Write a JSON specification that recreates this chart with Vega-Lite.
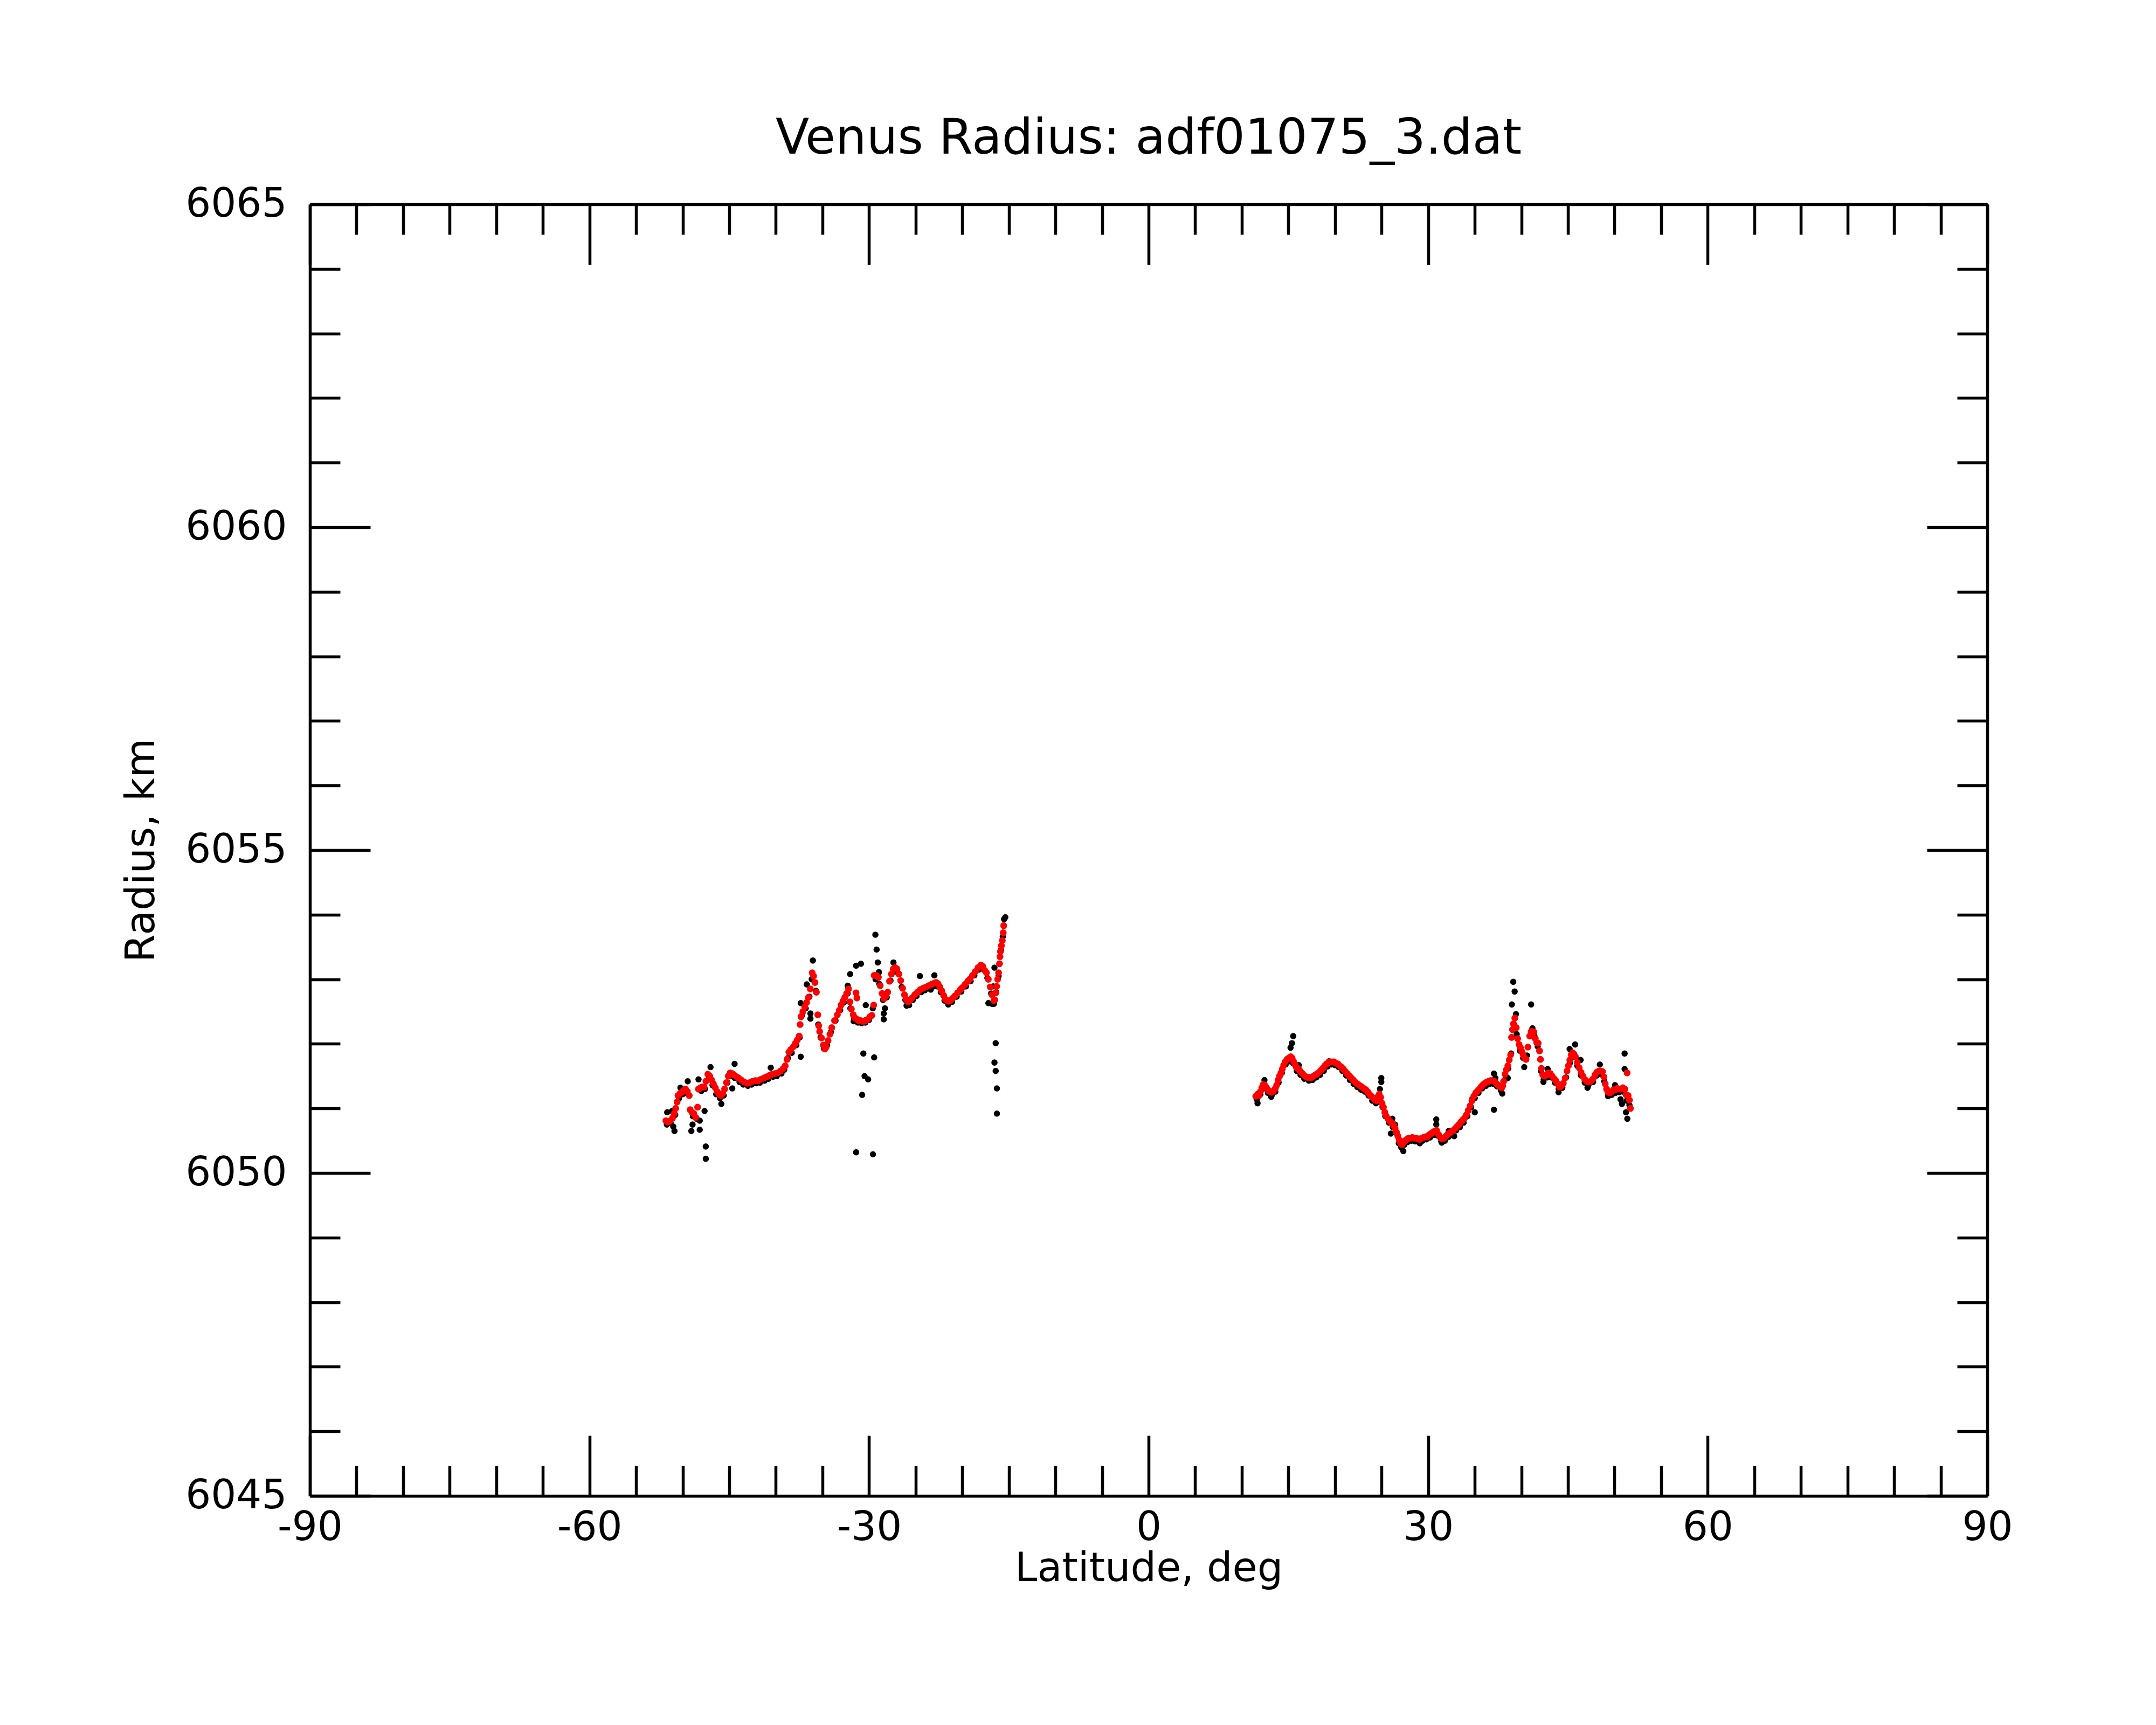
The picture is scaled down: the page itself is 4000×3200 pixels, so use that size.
{
  "$schema": "https://vega.github.io/schema/vega-lite/v6.json",
  "title": {
    "text": "Venus Radius: adf01075_3.dat",
    "font": "DejaVu Sans",
    "fontSize": 91,
    "fontWeight": "normal",
    "color": "black",
    "anchor": "middle",
    "baseline": "alphabetic",
    "offset": -34
  },
  "width": 3112,
  "height": 2396,
  "autosize": "none",
  "padding": {"left": 575, "top": 379, "right": 313, "bottom": 425},
  "background": "white",
  "datasets": {
    "raw": [
      {"lat": -51.7, "radius": 6050.75}, {"lat": -51.3, "radius": 6050.78}, {"lat": -50.8, "radius": 6050.9}, {"lat": -50.4, "radius": 6051.15},
      {"lat": -50.0, "radius": 6051.22}, {"lat": -49.6, "radius": 6051.24}, {"lat": -48.9, "radius": 6050.88}, {"lat": -48.5, "radius": 6050.84},
      {"lat": -48.0, "radius": 6051.27}, {"lat": -47.6, "radius": 6051.3}, {"lat": -47.2, "radius": 6051.46}, {"lat": -46.8, "radius": 6051.36},
      {"lat": -46.4, "radius": 6051.22}, {"lat": -46.0, "radius": 6051.16}, {"lat": -45.6, "radius": 6051.2}, {"lat": -45.2, "radius": 6051.4},
      {"lat": -44.8, "radius": 6051.5}, {"lat": -44.4, "radius": 6051.47}, {"lat": -43.9, "radius": 6051.41}, {"lat": -43.5, "radius": 6051.37},
      {"lat": -43.0, "radius": 6051.35}, {"lat": -42.6, "radius": 6051.37}, {"lat": -42.1, "radius": 6051.39}, {"lat": -41.7, "radius": 6051.4},
      {"lat": -41.2, "radius": 6051.43}, {"lat": -40.8, "radius": 6051.46}, {"lat": -40.3, "radius": 6051.49}, {"lat": -39.9, "radius": 6051.5},
      {"lat": -39.4, "radius": 6051.54}, {"lat": -39.1, "radius": 6051.6}, {"lat": -38.7, "radius": 6051.78}, {"lat": -38.3, "radius": 6051.86},
      {"lat": -37.8, "radius": 6051.98}, {"lat": -37.45, "radius": 6052.1}, {"lat": -37.2, "radius": 6052.44}, {"lat": -36.8, "radius": 6052.55},
      {"lat": -36.4, "radius": 6052.73}, {"lat": -36.15, "radius": 6053.0}, {"lat": -35.7, "radius": 6052.82}, {"lat": -35.45, "radius": 6052.3},
      {"lat": -35.2, "radius": 6052.1}, {"lat": -34.85, "radius": 6051.93}, {"lat": -34.5, "radius": 6051.98}, {"lat": -34.1, "radius": 6052.18},
      {"lat": -33.6, "radius": 6052.36}, {"lat": -33.1, "radius": 6052.52}, {"lat": -32.7, "radius": 6052.64}, {"lat": -32.3, "radius": 6052.78},
      {"lat": -32.0, "radius": 6052.55}, {"lat": -31.6, "radius": 6052.38}, {"lat": -31.2, "radius": 6052.33}, {"lat": -30.8, "radius": 6052.32},
      {"lat": -30.4, "radius": 6052.33}, {"lat": -30.0, "radius": 6052.37}, {"lat": -29.6, "radius": 6052.55}, {"lat": -29.3, "radius": 6053.0},
      {"lat": -28.9, "radius": 6052.93}, {"lat": -28.5, "radius": 6052.68}, {"lat": -28.1, "radius": 6052.72}, {"lat": -27.7, "radius": 6052.98},
      {"lat": -27.3, "radius": 6053.12}, {"lat": -26.9, "radius": 6053.1}, {"lat": -26.5, "radius": 6052.88}, {"lat": -26.1, "radius": 6052.68},
      {"lat": -25.7, "radius": 6052.6}, {"lat": -25.3, "radius": 6052.68}, {"lat": -24.9, "radius": 6052.74}, {"lat": -24.4, "radius": 6052.8},
      {"lat": -24.0, "radius": 6052.83}, {"lat": -23.5, "radius": 6052.86}, {"lat": -23.1, "radius": 6052.89}, {"lat": -22.7, "radius": 6052.89},
      {"lat": -22.3, "radius": 6052.8}, {"lat": -21.9, "radius": 6052.67}, {"lat": -21.5, "radius": 6052.61}, {"lat": -21.1, "radius": 6052.65},
      {"lat": -20.6, "radius": 6052.73}, {"lat": -20.1, "radius": 6052.81}, {"lat": -19.6, "radius": 6052.89}, {"lat": -19.1, "radius": 6052.97},
      {"lat": -18.7, "radius": 6053.06}, {"lat": -18.2, "radius": 6053.15}, {"lat": -17.7, "radius": 6053.15}, {"lat": -17.3, "radius": 6053.02},
      {"lat": -16.9, "radius": 6052.78}, {"lat": -16.6, "radius": 6052.62}, {"lat": -16.35, "radius": 6052.8}, {"lat": -16.1, "radius": 6053.05},
      {"lat": -15.85, "radius": 6053.45}, {"lat": -15.65, "radius": 6053.66},
      {"lat": -47.52, "radius": 6050.41}, {"lat": -47.52, "radius": 6050.22}, {"lat": -47.65, "radius": 6050.96}, {"lat": -48.17, "radius": 6050.81},
      {"lat": -48.17, "radius": 6050.67}, {"lat": -49.07, "radius": 6050.65}, {"lat": -48.94, "radius": 6050.75}, {"lat": -50.88, "radius": 6050.65},
      {"lat": -51.01, "radius": 6050.72}, {"lat": -51.66, "radius": 6050.94}, {"lat": -51.14, "radius": 6050.96}, {"lat": -50.24, "radius": 6051.32},
      {"lat": -49.46, "radius": 6051.42}, {"lat": -48.3, "radius": 6051.45}, {"lat": -47.01, "radius": 6051.64}, {"lat": -45.85, "radius": 6051.07},
      {"lat": -44.68, "radius": 6051.31}, {"lat": -44.43, "radius": 6051.69}, {"lat": -40.55, "radius": 6051.63}, {"lat": -37.33, "radius": 6051.8},
      {"lat": -37.33, "radius": 6052.63}, {"lat": -36.68, "radius": 6052.92}, {"lat": -36.03, "radius": 6053.29}, {"lat": -36.29, "radius": 6052.47},
      {"lat": -36.29, "radius": 6052.39}, {"lat": -32.03, "radius": 6053.08}, {"lat": -31.39, "radius": 6053.21}, {"lat": -30.87, "radius": 6053.24},
      {"lat": -31.65, "radius": 6052.35}, {"lat": -30.35, "radius": 6052.6}, {"lat": -30.61, "radius": 6051.85}, {"lat": -30.48, "radius": 6051.5},
      {"lat": -30.1, "radius": 6051.45}, {"lat": -30.74, "radius": 6051.21}, {"lat": -31.39, "radius": 6050.32}, {"lat": -29.58, "radius": 6050.29},
      {"lat": -29.45, "radius": 6051.79}, {"lat": -29.32, "radius": 6053.69}, {"lat": -29.19, "radius": 6053.46}, {"lat": -29.06, "radius": 6053.26},
      {"lat": -28.94, "radius": 6053.11}, {"lat": -28.42, "radius": 6052.47}, {"lat": -28.29, "radius": 6052.55}, {"lat": -28.42, "radius": 6052.38},
      {"lat": -27.38, "radius": 6053.26}, {"lat": -24.54, "radius": 6053.05}, {"lat": -22.99, "radius": 6053.06}, {"lat": -23.38, "radius": 6052.84},
      {"lat": -16.54, "radius": 6053.18}, {"lat": -16.67, "radius": 6052.89}, {"lat": -16.41, "radius": 6052.01}, {"lat": -16.54, "radius": 6051.71},
      {"lat": -16.41, "radius": 6051.58}, {"lat": -16.28, "radius": 6051.31}, {"lat": -16.28, "radius": 6050.92}, {"lat": -15.38, "radius": 6053.96},
      {"lat": -15.51, "radius": 6053.93}, {"lat": -25.97, "radius": 6052.59}, {"lat": -21.45, "radius": 6052.63}, {"lat": -17.19, "radius": 6052.63},
      {"lat": -16.8, "radius": 6052.62}, {"lat": -32.29, "radius": 6052.9},
      {"lat": 11.6, "radius": 6051.14}, {"lat": 12.0, "radius": 6051.22}, {"lat": 12.4, "radius": 6051.31}, {"lat": 12.8, "radius": 6051.24},
      {"lat": 13.2, "radius": 6051.2}, {"lat": 13.6, "radius": 6051.26}, {"lat": 13.95, "radius": 6051.4}, {"lat": 14.3, "radius": 6051.55},
      {"lat": 14.7, "radius": 6051.68}, {"lat": 15.1, "radius": 6051.73}, {"lat": 15.5, "radius": 6051.7}, {"lat": 15.9, "radius": 6051.58},
      {"lat": 16.3, "radius": 6051.52}, {"lat": 16.7, "radius": 6051.46}, {"lat": 17.2, "radius": 6051.43}, {"lat": 17.6, "radius": 6051.44},
      {"lat": 18.0, "radius": 6051.48}, {"lat": 18.4, "radius": 6051.52}, {"lat": 18.8, "radius": 6051.58}, {"lat": 19.2, "radius": 6051.65},
      {"lat": 19.6, "radius": 6051.68}, {"lat": 20.0, "radius": 6051.67}, {"lat": 20.4, "radius": 6051.64}, {"lat": 20.8, "radius": 6051.58},
      {"lat": 21.2, "radius": 6051.51}, {"lat": 21.6, "radius": 6051.44}, {"lat": 22.0, "radius": 6051.38}, {"lat": 22.4, "radius": 6051.33},
      {"lat": 22.8, "radius": 6051.29}, {"lat": 23.2, "radius": 6051.26}, {"lat": 23.6, "radius": 6051.2}, {"lat": 24.0, "radius": 6051.12},
      {"lat": 24.4, "radius": 6051.08}, {"lat": 24.7, "radius": 6051.15}, {"lat": 25.1, "radius": 6051.02}, {"lat": 25.4, "radius": 6050.88},
      {"lat": 25.8, "radius": 6050.78}, {"lat": 26.2, "radius": 6050.71}, {"lat": 26.55, "radius": 6050.62}, {"lat": 26.85, "radius": 6050.46},
      {"lat": 27.1, "radius": 6050.4}, {"lat": 27.45, "radius": 6050.44}, {"lat": 27.8, "radius": 6050.48}, {"lat": 28.2, "radius": 6050.5},
      {"lat": 28.6, "radius": 6050.49}, {"lat": 29.0, "radius": 6050.48}, {"lat": 29.4, "radius": 6050.5}, {"lat": 29.8, "radius": 6050.52},
      {"lat": 30.2, "radius": 6050.55}, {"lat": 30.6, "radius": 6050.59}, {"lat": 31.0, "radius": 6050.58}, {"lat": 31.4, "radius": 6050.49},
      {"lat": 31.8, "radius": 6050.5}, {"lat": 32.2, "radius": 6050.56}, {"lat": 32.6, "radius": 6050.6}, {"lat": 33.0, "radius": 6050.66},
      {"lat": 33.4, "radius": 6050.71}, {"lat": 33.8, "radius": 6050.78}, {"lat": 34.2, "radius": 6050.88}, {"lat": 34.6, "radius": 6051.02},
      {"lat": 35.0, "radius": 6051.16}, {"lat": 35.4, "radius": 6051.24}, {"lat": 35.8, "radius": 6051.31}, {"lat": 36.2, "radius": 6051.35},
      {"lat": 36.6, "radius": 6051.38}, {"lat": 37.0, "radius": 6051.38}, {"lat": 37.4, "radius": 6051.34}, {"lat": 37.8, "radius": 6051.28},
      {"lat": 38.2, "radius": 6051.44}, {"lat": 38.6, "radius": 6051.62}, {"lat": 38.9, "radius": 6051.85}, {"lat": 39.2, "radius": 6052.3},
      {"lat": 39.5, "radius": 6052.15}, {"lat": 39.85, "radius": 6051.9}, {"lat": 40.2, "radius": 6051.78}, {"lat": 40.6, "radius": 6051.82},
      {"lat": 41.0, "radius": 6052.12}, {"lat": 41.4, "radius": 6052.12}, {"lat": 41.75, "radius": 6051.96}, {"lat": 42.1, "radius": 6051.58},
      {"lat": 42.4, "radius": 6051.45}, {"lat": 42.8, "radius": 6051.48}, {"lat": 43.2, "radius": 6051.48}, {"lat": 43.6, "radius": 6051.4},
      {"lat": 44.0, "radius": 6051.3}, {"lat": 44.4, "radius": 6051.32}, {"lat": 44.8, "radius": 6051.48}, {"lat": 45.2, "radius": 6051.7},
      {"lat": 45.6, "radius": 6051.8}, {"lat": 46.0, "radius": 6051.66}, {"lat": 46.4, "radius": 6051.51}, {"lat": 46.8, "radius": 6051.4},
      {"lat": 47.2, "radius": 6051.36}, {"lat": 47.7, "radius": 6051.41}, {"lat": 48.1, "radius": 6051.51}, {"lat": 48.5, "radius": 6051.53},
      {"lat": 48.9, "radius": 6051.42}, {"lat": 49.3, "radius": 6051.2}, {"lat": 49.7, "radius": 6051.21}, {"lat": 50.1, "radius": 6051.24},
      {"lat": 50.5, "radius": 6051.25}, {"lat": 50.9, "radius": 6051.26}, {"lat": 51.3, "radius": 6051.12}, {"lat": 51.6, "radius": 6051.05},
      {"lat": 15.52, "radius": 6052.12}, {"lat": 15.38, "radius": 6052.01}, {"lat": 15.23, "radius": 6051.94}, {"lat": 12.43, "radius": 6051.44},
      {"lat": 11.69, "radius": 6051.08}, {"lat": 13.16, "radius": 6051.18}, {"lat": 16.11, "radius": 6051.67}, {"lat": 19.36, "radius": 6051.73},
      {"lat": 23.2, "radius": 6051.29}, {"lat": 24.97, "radius": 6051.47}, {"lat": 24.97, "radius": 6051.41}, {"lat": 24.82, "radius": 6051.3},
      {"lat": 26.15, "radius": 6050.84}, {"lat": 26.0, "radius": 6050.61}, {"lat": 26.44, "radius": 6050.75}, {"lat": 27.33, "radius": 6050.34},
      {"lat": 29.1, "radius": 6050.46}, {"lat": 30.87, "radius": 6050.83}, {"lat": 30.87, "radius": 6050.75}, {"lat": 31.46, "radius": 6050.47},
      {"lat": 32.2, "radius": 6050.65}, {"lat": 32.79, "radius": 6050.57}, {"lat": 34.7, "radius": 6051.14}, {"lat": 35.0, "radius": 6050.94},
      {"lat": 37.06, "radius": 6051.54}, {"lat": 37.21, "radius": 6051.47}, {"lat": 37.06, "radius": 6050.98}, {"lat": 37.95, "radius": 6051.23},
      {"lat": 38.54, "radius": 6051.47}, {"lat": 38.98, "radius": 6052.61}, {"lat": 39.13, "radius": 6052.96}, {"lat": 39.28, "radius": 6052.81},
      {"lat": 39.42, "radius": 6052.46}, {"lat": 39.87, "radius": 6051.89}, {"lat": 40.31, "radius": 6051.64}, {"lat": 41.05, "radius": 6052.61},
      {"lat": 41.19, "radius": 6052.24}, {"lat": 42.37, "radius": 6051.41}, {"lat": 42.82, "radius": 6051.61}, {"lat": 43.99, "radius": 6051.25},
      {"lat": 45.18, "radius": 6051.92}, {"lat": 45.77, "radius": 6051.99}, {"lat": 46.36, "radius": 6051.75}, {"lat": 47.1, "radius": 6051.32},
      {"lat": 48.42, "radius": 6051.68}, {"lat": 49.31, "radius": 6051.19}, {"lat": 50.05, "radius": 6051.36}, {"lat": 50.64, "radius": 6051.14},
      {"lat": 50.79, "radius": 6051.07}, {"lat": 51.08, "radius": 6051.85}, {"lat": 51.08, "radius": 6051.61}, {"lat": 51.23, "radius": 6050.94},
      {"lat": 51.37, "radius": 6050.84}, {"lat": 50.93, "radius": 6051.28}
    ],
    "fit": [
      {"lat": -51.8, "radius": 6050.81}, {"lat": -51.6, "radius": 6050.79}, {"lat": -51.4, "radius": 6050.8}, {"lat": -51.1, "radius": 6050.85},
      {"lat": -50.9, "radius": 6050.92}, {"lat": -50.75, "radius": 6051.0}, {"lat": -50.6, "radius": 6051.1}, {"lat": -50.5, "radius": 6051.2},
      {"lat": -50.3, "radius": 6051.23}, {"lat": -50.1, "radius": 6051.25}, {"lat": -49.9, "radius": 6051.28}, {"lat": -49.7, "radius": 6051.3},
      {"lat": -49.5, "radius": 6051.26}, {"lat": -49.3, "radius": 6051.2}, {"lat": -49.2, "radius": 6050.98}, {"lat": -49.0, "radius": 6050.94},
      {"lat": -48.8, "radius": 6050.92}, {"lat": -48.6, "radius": 6050.86}, {"lat": -48.4, "radius": 6051.02}, {"lat": -48.3, "radius": 6051.3},
      {"lat": -48.1, "radius": 6051.32}, {"lat": -47.9, "radius": 6051.33}, {"lat": -47.7, "radius": 6051.33}, {"lat": -47.5, "radius": 6051.42},
      {"lat": -47.3, "radius": 6051.53}, {"lat": -47.1, "radius": 6051.5}, {"lat": -46.9, "radius": 6051.44}, {"lat": -46.7, "radius": 6051.38},
      {"lat": -46.5, "radius": 6051.32}, {"lat": -46.3, "radius": 6051.26}, {"lat": -46.1, "radius": 6051.22}, {"lat": -45.9, "radius": 6051.2},
      {"lat": -45.7, "radius": 6051.23}, {"lat": -45.5, "radius": 6051.3}, {"lat": -45.3, "radius": 6051.4}, {"lat": -45.1, "radius": 6051.5},
      {"lat": -44.9, "radius": 6051.55}, {"lat": -44.7, "radius": 6051.54}, {"lat": -44.5, "radius": 6051.52}, {"lat": -44.2, "radius": 6051.49},
      {"lat": -44.0, "radius": 6051.47}, {"lat": -43.7, "radius": 6051.44}, {"lat": -43.4, "radius": 6051.41}, {"lat": -43.1, "radius": 6051.39},
      {"lat": -42.8, "radius": 6051.4}, {"lat": -42.5, "radius": 6051.42}, {"lat": -42.2, "radius": 6051.43}, {"lat": -41.9, "radius": 6051.43},
      {"lat": -41.6, "radius": 6051.45}, {"lat": -41.3, "radius": 6051.47}, {"lat": -41.0, "radius": 6051.49}, {"lat": -40.7, "radius": 6051.51},
      {"lat": -40.4, "radius": 6051.53}, {"lat": -40.1, "radius": 6051.54}, {"lat": -39.8, "radius": 6051.55}, {"lat": -39.5, "radius": 6051.58},
      {"lat": -39.2, "radius": 6051.62}, {"lat": -39.0, "radius": 6051.66}, {"lat": -38.8, "radius": 6051.76}, {"lat": -38.6, "radius": 6051.87},
      {"lat": -38.4, "radius": 6051.91}, {"lat": -38.1, "radius": 6051.96}, {"lat": -37.9, "radius": 6052.01}, {"lat": -37.7, "radius": 6052.06},
      {"lat": -37.5, "radius": 6052.12}, {"lat": -37.4, "radius": 6052.3}, {"lat": -37.3, "radius": 6052.42}, {"lat": -37.1, "radius": 6052.5},
      {"lat": -36.9, "radius": 6052.57}, {"lat": -36.7, "radius": 6052.64}, {"lat": -36.5, "radius": 6052.72}, {"lat": -36.3, "radius": 6052.85},
      {"lat": -36.1, "radius": 6053.1}, {"lat": -35.95, "radius": 6053.05}, {"lat": -35.8, "radius": 6052.95}, {"lat": -35.65, "radius": 6052.8},
      {"lat": -35.5, "radius": 6052.45}, {"lat": -35.4, "radius": 6052.28}, {"lat": -35.3, "radius": 6052.19}, {"lat": -35.1, "radius": 6052.09},
      {"lat": -34.9, "radius": 6051.98}, {"lat": -34.75, "radius": 6051.92}, {"lat": -34.6, "radius": 6051.95}, {"lat": -34.4, "radius": 6052.05},
      {"lat": -34.2, "radius": 6052.15}, {"lat": -34.0, "radius": 6052.25}, {"lat": -33.7, "radius": 6052.36}, {"lat": -33.4, "radius": 6052.45},
      {"lat": -33.2, "radius": 6052.52}, {"lat": -33.0, "radius": 6052.6}, {"lat": -32.8, "radius": 6052.66}, {"lat": -32.6, "radius": 6052.72},
      {"lat": -32.4, "radius": 6052.78}, {"lat": -32.2, "radius": 6052.85}, {"lat": -32.05, "radius": 6052.65}, {"lat": -31.9, "radius": 6052.54},
      {"lat": -31.7, "radius": 6052.45}, {"lat": -31.5, "radius": 6052.4}, {"lat": -31.3, "radius": 6052.38}, {"lat": -31.1, "radius": 6052.36},
      {"lat": -30.9, "radius": 6052.36}, {"lat": -30.7, "radius": 6052.35}, {"lat": -30.5, "radius": 6052.35}, {"lat": -30.3, "radius": 6052.37},
      {"lat": -30.1, "radius": 6052.38}, {"lat": -29.9, "radius": 6052.42}, {"lat": -29.7, "radius": 6052.44}, {"lat": -31.4, "radius": 6052.79},
      {"lat": -31.3, "radius": 6052.71}, {"lat": -29.5, "radius": 6052.6}, {"lat": -29.45, "radius": 6053.06}, {"lat": -29.2, "radius": 6053.06},
      {"lat": -29.0, "radius": 6053.03}, {"lat": -28.8, "radius": 6052.9}, {"lat": -28.6, "radius": 6052.78}, {"lat": -28.4, "radius": 6052.7},
      {"lat": -28.2, "radius": 6052.74}, {"lat": -28.0, "radius": 6052.8}, {"lat": -27.8, "radius": 6052.97}, {"lat": -27.6, "radius": 6053.08},
      {"lat": -27.4, "radius": 6053.16}, {"lat": -27.2, "radius": 6053.18}, {"lat": -27.0, "radius": 6053.16}, {"lat": -26.8, "radius": 6053.08},
      {"lat": -26.6, "radius": 6052.98}, {"lat": -26.4, "radius": 6052.86}, {"lat": -26.2, "radius": 6052.76}, {"lat": -26.0, "radius": 6052.69},
      {"lat": -25.8, "radius": 6052.65}, {"lat": -25.6, "radius": 6052.68}, {"lat": -25.4, "radius": 6052.71}, {"lat": -25.1, "radius": 6052.76},
      {"lat": -24.8, "radius": 6052.8}, {"lat": -24.5, "radius": 6052.84}, {"lat": -24.2, "radius": 6052.86}, {"lat": -23.9, "radius": 6052.88},
      {"lat": -23.6, "radius": 6052.9}, {"lat": -23.3, "radius": 6052.92}, {"lat": -23.0, "radius": 6052.94}, {"lat": -22.8, "radius": 6052.95},
      {"lat": -22.6, "radius": 6052.93}, {"lat": -22.4, "radius": 6052.88}, {"lat": -22.2, "radius": 6052.82}, {"lat": -22.0, "radius": 6052.75},
      {"lat": -21.8, "radius": 6052.69}, {"lat": -21.6, "radius": 6052.67}, {"lat": -21.4, "radius": 6052.66}, {"lat": -21.2, "radius": 6052.68},
      {"lat": -21.0, "radius": 6052.71}, {"lat": -20.8, "radius": 6052.74}, {"lat": -20.5, "radius": 6052.79}, {"lat": -20.2, "radius": 6052.84},
      {"lat": -20.0, "radius": 6052.87}, {"lat": -19.7, "radius": 6052.92}, {"lat": -19.4, "radius": 6052.97}, {"lat": -19.2, "radius": 6053.0},
      {"lat": -18.9, "radius": 6053.06}, {"lat": -18.6, "radius": 6053.12}, {"lat": -18.3, "radius": 6053.18}, {"lat": -18.0, "radius": 6053.22},
      {"lat": -17.8, "radius": 6053.2}, {"lat": -17.6, "radius": 6053.14}, {"lat": -17.4, "radius": 6053.1}, {"lat": -17.2, "radius": 6053.0},
      {"lat": -17.0, "radius": 6052.88}, {"lat": -16.8, "radius": 6052.76}, {"lat": -16.6, "radius": 6052.67}, {"lat": -16.5, "radius": 6052.68},
      {"lat": -16.4, "radius": 6052.79}, {"lat": -16.3, "radius": 6052.89}, {"lat": -16.2, "radius": 6053.0}, {"lat": -16.1, "radius": 6053.1},
      {"lat": -16.0, "radius": 6053.24}, {"lat": -15.95, "radius": 6053.35}, {"lat": -15.9, "radius": 6053.43}, {"lat": -15.8, "radius": 6053.52},
      {"lat": -15.7, "radius": 6053.6}, {"lat": -15.6, "radius": 6053.72}, {"lat": -15.55, "radius": 6053.83},
      {"lat": 11.5, "radius": 6051.19}, {"lat": 11.7, "radius": 6051.22}, {"lat": 11.85, "radius": 6051.2}, {"lat": 12.0, "radius": 6051.26},
      {"lat": 12.15, "radius": 6051.32}, {"lat": 12.3, "radius": 6051.37}, {"lat": 12.45, "radius": 6051.36}, {"lat": 12.6, "radius": 6051.33},
      {"lat": 12.75, "radius": 6051.3}, {"lat": 12.9, "radius": 6051.27}, {"lat": 13.05, "radius": 6051.26}, {"lat": 13.2, "radius": 6051.25},
      {"lat": 13.4, "radius": 6051.27}, {"lat": 13.6, "radius": 6051.31}, {"lat": 13.75, "radius": 6051.36}, {"lat": 13.9, "radius": 6051.44},
      {"lat": 14.05, "radius": 6051.5}, {"lat": 14.2, "radius": 6051.55}, {"lat": 14.35, "radius": 6051.61}, {"lat": 14.5, "radius": 6051.67},
      {"lat": 14.65, "radius": 6051.72}, {"lat": 14.85, "radius": 6051.76}, {"lat": 15.05, "radius": 6051.78}, {"lat": 15.25, "radius": 6051.8},
      {"lat": 15.4, "radius": 6051.78}, {"lat": 15.55, "radius": 6051.73}, {"lat": 15.7, "radius": 6051.68}, {"lat": 15.85, "radius": 6051.64},
      {"lat": 16.0, "radius": 6051.62}, {"lat": 16.15, "radius": 6051.6}, {"lat": 16.3, "radius": 6051.57}, {"lat": 16.5, "radius": 6051.54},
      {"lat": 16.7, "radius": 6051.51}, {"lat": 16.9, "radius": 6051.49}, {"lat": 17.1, "radius": 6051.48}, {"lat": 17.3, "radius": 6051.48},
      {"lat": 17.5, "radius": 6051.48}, {"lat": 17.7, "radius": 6051.5}, {"lat": 17.9, "radius": 6051.52}, {"lat": 18.1, "radius": 6051.54},
      {"lat": 18.3, "radius": 6051.56}, {"lat": 18.5, "radius": 6051.59}, {"lat": 18.7, "radius": 6051.62}, {"lat": 18.9, "radius": 6051.66},
      {"lat": 19.1, "radius": 6051.69}, {"lat": 19.3, "radius": 6051.71}, {"lat": 19.5, "radius": 6051.72}, {"lat": 19.7, "radius": 6051.72},
      {"lat": 19.9, "radius": 6051.72}, {"lat": 20.1, "radius": 6051.7}, {"lat": 20.3, "radius": 6051.69}, {"lat": 20.5, "radius": 6051.66},
      {"lat": 20.7, "radius": 6051.64}, {"lat": 20.9, "radius": 6051.61}, {"lat": 21.1, "radius": 6051.57}, {"lat": 21.3, "radius": 6051.54},
      {"lat": 21.5, "radius": 6051.51}, {"lat": 21.7, "radius": 6051.48}, {"lat": 21.9, "radius": 6051.45}, {"lat": 22.1, "radius": 6051.42},
      {"lat": 22.3, "radius": 6051.39}, {"lat": 22.5, "radius": 6051.37}, {"lat": 22.7, "radius": 6051.35}, {"lat": 22.9, "radius": 6051.33},
      {"lat": 23.1, "radius": 6051.31}, {"lat": 23.3, "radius": 6051.29}, {"lat": 23.5, "radius": 6051.26}, {"lat": 23.7, "radius": 6051.22},
      {"lat": 23.9, "radius": 6051.19}, {"lat": 24.1, "radius": 6051.16}, {"lat": 24.3, "radius": 6051.13}, {"lat": 24.45, "radius": 6051.12},
      {"lat": 24.6, "radius": 6051.18}, {"lat": 24.75, "radius": 6051.22}, {"lat": 24.9, "radius": 6051.17}, {"lat": 25.05, "radius": 6051.08},
      {"lat": 25.2, "radius": 6051.02}, {"lat": 25.35, "radius": 6050.94}, {"lat": 25.5, "radius": 6050.88}, {"lat": 25.7, "radius": 6050.84},
      {"lat": 25.9, "radius": 6050.8}, {"lat": 26.1, "radius": 6050.77}, {"lat": 26.3, "radius": 6050.74}, {"lat": 26.45, "radius": 6050.69},
      {"lat": 26.6, "radius": 6050.63}, {"lat": 26.75, "radius": 6050.57}, {"lat": 26.9, "radius": 6050.51}, {"lat": 27.05, "radius": 6050.46},
      {"lat": 27.2, "radius": 6050.44}, {"lat": 27.35, "radius": 6050.47}, {"lat": 27.5, "radius": 6050.5}, {"lat": 27.7, "radius": 6050.52},
      {"lat": 27.9, "radius": 6050.54}, {"lat": 28.1, "radius": 6050.54}, {"lat": 28.3, "radius": 6050.55}, {"lat": 28.5, "radius": 6050.54},
      {"lat": 28.7, "radius": 6050.54}, {"lat": 28.9, "radius": 6050.53}, {"lat": 29.1, "radius": 6050.52}, {"lat": 29.3, "radius": 6050.54},
      {"lat": 29.5, "radius": 6050.55}, {"lat": 29.7, "radius": 6050.56}, {"lat": 29.9, "radius": 6050.56}, {"lat": 30.1, "radius": 6050.59},
      {"lat": 30.3, "radius": 6050.61}, {"lat": 30.5, "radius": 6050.63}, {"lat": 30.7, "radius": 6050.65}, {"lat": 30.9, "radius": 6050.66},
      {"lat": 31.1, "radius": 6050.6}, {"lat": 31.3, "radius": 6050.55}, {"lat": 31.5, "radius": 6050.53}, {"lat": 31.7, "radius": 6050.54},
      {"lat": 31.9, "radius": 6050.57}, {"lat": 32.1, "radius": 6050.6}, {"lat": 32.3, "radius": 6050.62}, {"lat": 32.5, "radius": 6050.64},
      {"lat": 32.7, "radius": 6050.66}, {"lat": 32.9, "radius": 6050.69}, {"lat": 33.1, "radius": 6050.72}, {"lat": 33.3, "radius": 6050.75},
      {"lat": 33.5, "radius": 6050.79}, {"lat": 33.7, "radius": 6050.82}, {"lat": 33.9, "radius": 6050.85}, {"lat": 34.1, "radius": 6050.9},
      {"lat": 34.3, "radius": 6050.97}, {"lat": 34.5, "radius": 6051.04}, {"lat": 34.7, "radius": 6051.12}, {"lat": 34.9, "radius": 6051.19},
      {"lat": 35.1, "radius": 6051.24}, {"lat": 35.3, "radius": 6051.27}, {"lat": 35.5, "radius": 6051.3}, {"lat": 35.7, "radius": 6051.34},
      {"lat": 35.9, "radius": 6051.37}, {"lat": 36.1, "radius": 6051.39}, {"lat": 36.3, "radius": 6051.41}, {"lat": 36.5, "radius": 6051.42},
      {"lat": 36.7, "radius": 6051.43}, {"lat": 36.9, "radius": 6051.43}, {"lat": 37.1, "radius": 6051.42}, {"lat": 37.3, "radius": 6051.39},
      {"lat": 37.5, "radius": 6051.36}, {"lat": 37.7, "radius": 6051.34}, {"lat": 37.9, "radius": 6051.32}, {"lat": 38.0, "radius": 6051.35},
      {"lat": 38.1, "radius": 6051.42}, {"lat": 38.25, "radius": 6051.53}, {"lat": 38.4, "radius": 6051.6}, {"lat": 38.55, "radius": 6051.66},
      {"lat": 38.7, "radius": 6051.75}, {"lat": 38.85, "radius": 6051.83}, {"lat": 38.95, "radius": 6052.1}, {"lat": 39.05, "radius": 6052.22},
      {"lat": 39.15, "radius": 6052.31}, {"lat": 39.3, "radius": 6052.4}, {"lat": 39.45, "radius": 6052.25}, {"lat": 39.6, "radius": 6052.08},
      {"lat": 39.75, "radius": 6051.99}, {"lat": 39.9, "radius": 6051.94}, {"lat": 40.05, "radius": 6051.88}, {"lat": 40.2, "radius": 6051.83},
      {"lat": 40.35, "radius": 6051.78}, {"lat": 40.5, "radius": 6051.76}, {"lat": 40.7, "radius": 6051.95}, {"lat": 40.9, "radius": 6052.12},
      {"lat": 41.05, "radius": 6052.19}, {"lat": 41.2, "radius": 6052.19}, {"lat": 41.35, "radius": 6052.18}, {"lat": 41.5, "radius": 6052.08},
      {"lat": 41.65, "radius": 6052.02}, {"lat": 41.8, "radius": 6052.01}, {"lat": 41.95, "radius": 6051.89}, {"lat": 42.05, "radius": 6051.76},
      {"lat": 42.15, "radius": 6051.62}, {"lat": 42.3, "radius": 6051.52}, {"lat": 42.5, "radius": 6051.5}, {"lat": 42.7, "radius": 6051.52},
      {"lat": 42.9, "radius": 6051.55}, {"lat": 43.1, "radius": 6051.54}, {"lat": 43.3, "radius": 6051.5}, {"lat": 43.5, "radius": 6051.46},
      {"lat": 43.7, "radius": 6051.43}, {"lat": 43.9, "radius": 6051.38}, {"lat": 44.1, "radius": 6051.33}, {"lat": 44.3, "radius": 6051.35},
      {"lat": 44.5, "radius": 6051.39}, {"lat": 44.7, "radius": 6051.47}, {"lat": 44.9, "radius": 6051.58}, {"lat": 45.05, "radius": 6051.66},
      {"lat": 45.2, "radius": 6051.75}, {"lat": 45.35, "radius": 6051.83}, {"lat": 45.5, "radius": 6051.86}, {"lat": 45.65, "radius": 6051.84},
      {"lat": 45.8, "radius": 6051.8}, {"lat": 46.0, "radius": 6051.71}, {"lat": 46.2, "radius": 6051.63}, {"lat": 46.4, "radius": 6051.56},
      {"lat": 46.6, "radius": 6051.5}, {"lat": 46.8, "radius": 6051.45}, {"lat": 47.0, "radius": 6051.42}, {"lat": 47.2, "radius": 6051.41},
      {"lat": 47.45, "radius": 6051.42}, {"lat": 47.7, "radius": 6051.46}, {"lat": 47.9, "radius": 6051.52}, {"lat": 48.1, "radius": 6051.56},
      {"lat": 48.3, "radius": 6051.58}, {"lat": 48.5, "radius": 6051.58}, {"lat": 48.7, "radius": 6051.57}, {"lat": 48.85, "radius": 6051.49},
      {"lat": 49.0, "radius": 6051.38}, {"lat": 49.15, "radius": 6051.3}, {"lat": 49.3, "radius": 6051.25}, {"lat": 49.5, "radius": 6051.24},
      {"lat": 49.7, "radius": 6051.26}, {"lat": 49.9, "radius": 6051.29}, {"lat": 50.1, "radius": 6051.29}, {"lat": 50.3, "radius": 6051.31},
      {"lat": 50.5, "radius": 6051.3}, {"lat": 50.7, "radius": 6051.3}, {"lat": 50.9, "radius": 6051.32}, {"lat": 51.1, "radius": 6051.3},
      {"lat": 51.25, "radius": 6051.21}, {"lat": 51.35, "radius": 6051.55}, {"lat": 51.45, "radius": 6051.2}, {"lat": 51.6, "radius": 6051.13},
      {"lat": 51.7, "radius": 6051.0}
    ]
  },
  "layer": [
    {
      "data": {"name": "raw"},
      "mark": {"type": "circle", "size": 135, "color": "black", "opacity": 1},
      "encoding": {
        "x": {
          "field": "lat",
          "type": "quantitative",
          "scale": {"domain": [-90, 90], "nice": false, "zero": false},
          "axis": {
            "orient": "bottom",
            "title": "Latitude, deg",
            "values": [-90, -85, -80, -75, -70, -65, -60, -55, -50, -45, -40, -35, -30, -25, -20, -15, -10, -5, 0, 5, 10, 15, 20, 25, 30, 35, 40, 45, 50, 55, 60, 65, 70, 75, 80, 85, 90],
            "labelExpr": "datum.value % 30 === 0 ? '' + datum.value : ''",
            "tickSize": {"condition": {"test": "datum.value % 30 === 0", "value": -112}, "value": -56},
            "labelPadding": 135,
            "titlePadding": -54
          }
        },
        "y": {
          "field": "radius",
          "type": "quantitative",
          "scale": {"domain": [6045, 6065], "nice": false, "zero": false},
          "axis": {
            "orient": "left",
            "title": "Radius, km",
            "values": [6045, 6046, 6047, 6048, 6049, 6050, 6051, 6052, 6053, 6054, 6055, 6056, 6057, 6058, 6059, 6060, 6061, 6062, 6063, 6064, 6065],
            "labelExpr": "datum.value % 5 === 0 ? '' + datum.value : ''",
            "tickSize": {"condition": {"test": "datum.value % 5 === 0", "value": -112}, "value": -56},
            "labelPadding": 155,
            "titlePadding": 74
          }
        }
      }
    },
    {
      "data": {"name": "fit"},
      "mark": {"type": "circle", "size": 160, "color": "#ff0000", "opacity": 1},
      "encoding": {
        "x": {
          "field": "lat",
          "type": "quantitative",
          "axis": {
            "orient": "top",
            "title": null,
            "labels": false,
            "values": [-90, -85, -80, -75, -70, -65, -60, -55, -50, -45, -40, -35, -30, -25, -20, -15, -10, -5, 0, 5, 10, 15, 20, 25, 30, 35, 40, 45, 50, 55, 60, 65, 70, 75, 80, 85, 90],
            "tickSize": {"condition": {"test": "datum.value % 30 === 0", "value": -112}, "value": -56}
          }
        },
        "y": {
          "field": "radius",
          "type": "quantitative",
          "axis": {
            "orient": "right",
            "title": null,
            "labels": false,
            "values": [6045, 6046, 6047, 6048, 6049, 6050, 6051, 6052, 6053, 6054, 6055, 6056, 6057, 6058, 6059, 6060, 6061, 6062, 6063, 6064, 6065],
            "tickSize": {"condition": {"test": "datum.value % 5 === 0", "value": -112}, "value": -56}
          }
        }
      }
    }
  ],
  "resolve": {"axis": {"x": "independent", "y": "independent"}},
  "config": {
    "font": "DejaVu Sans",
    "view": {"stroke": null},
    "axis": {
      "grid": false,
      "domainColor": "black",
      "domainWidth": 5.5,
      "tickColor": "black",
      "tickWidth": 5.5,
      "labelFont": "DejaVu Sans",
      "labelFontSize": 74,
      "labelColor": "black",
      "labelFlush": false,
      "labelOverlap": false,
      "labelBound": false,
      "labelLimit": 1000,
      "titleFont": "DejaVu Sans",
      "titleFontSize": 75,
      "titleFontWeight": "normal",
      "titleColor": "black"
    }
  }
}
